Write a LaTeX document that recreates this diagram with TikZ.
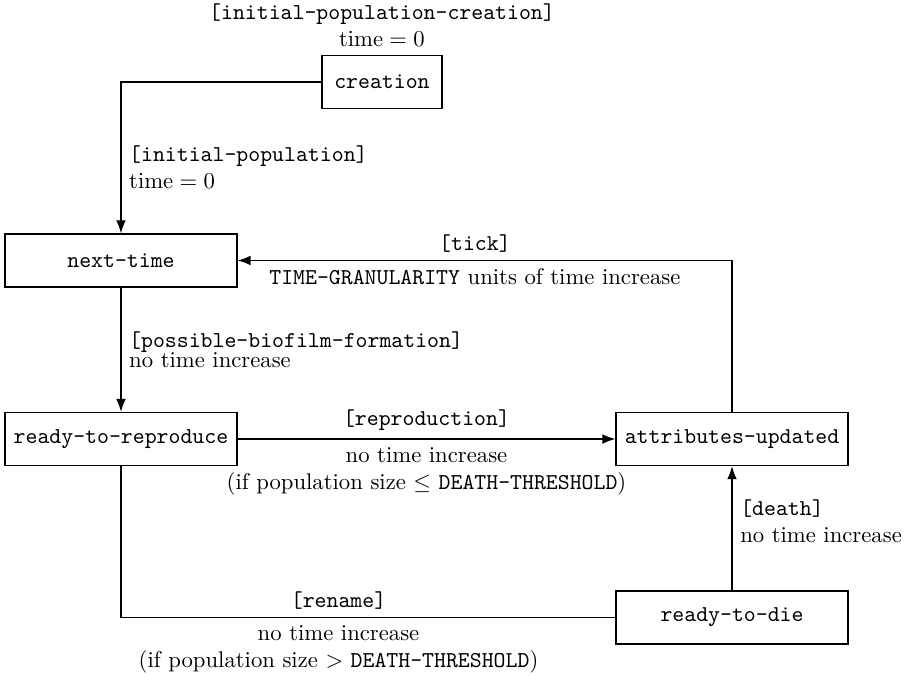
\documentclass[tikz,border=0pt]{standalone}
\usepackage{tikz}
\usetikzlibrary{positioning}
\usetikzlibrary{arrows.meta}

\begin{document}
\begin{tikzpicture}[>={Latex[length=2mm,width=1.5mm]}, semithick,
  statebox/.style={draw, rectangle, minimum width=3.59cm, minimum height=0.82cm, font=\ttfamily},
  edgelbl/.style={align=left}]
\useasboundingbox (0,0) rectangle (14.166,-10.466);

% states
\node[statebox, minimum width=1.86cm] (creation) at (5.914,-1.27) {creation};
\node[statebox] (nexttime) at (1.873,-4.033) {next-time};
\node[statebox] (reproduce) at (1.873,-6.797) {ready-to-reproduce};
\node[statebox] (attrib) at (11.333,-6.797) {attributes-updated};
\node[statebox] (die) at (11.333,-9.56) {ready-to-die};

\node[above=0pt of creation, align=center] (creationlbl) {\texttt{[initial-population-creation]}\\$\mathrm{time} = 0$};

% transitions
\draw[->] (creation.west) -| (nexttime.north)
  node[pos=0.78, right, edgelbl] {\texttt{[initial-population]}\\$\mathrm{time} = 0$};
\draw[->] (attrib.north) |- (nexttime.east)
  node[pos=0.76, above] {\texttt{[tick]}}
  node[pos=0.76, below] {\texttt{TIME-GRANULARITY} units of time increase};
\draw[->] (nexttime) -- (reproduce)
  node[midway, right, edgelbl] {\texttt{[possible-biofilm-formation]}\\[-3pt]no time increase};
\draw[->] (reproduce) -- (attrib)
  node[midway, above] {\texttt{[reproduction]}}
  node[midway, below, align=center] {no time increase\\(if population size $\leq$ \texttt{DEATH-THRESHOLD})};
\draw[->] (die) -- (attrib)
  node[pos=0.556, right, edgelbl] {\texttt{[death]}\\no time increase};
\draw (reproduce.south) |- (die.west)
  node[pos=0.72, above] {\texttt{[rename]}}
  node[pos=0.72, below, align=center] {no time increase\\(if population size $>$ \texttt{DEATH-THRESHOLD})};

\end{tikzpicture}
\end{document}
